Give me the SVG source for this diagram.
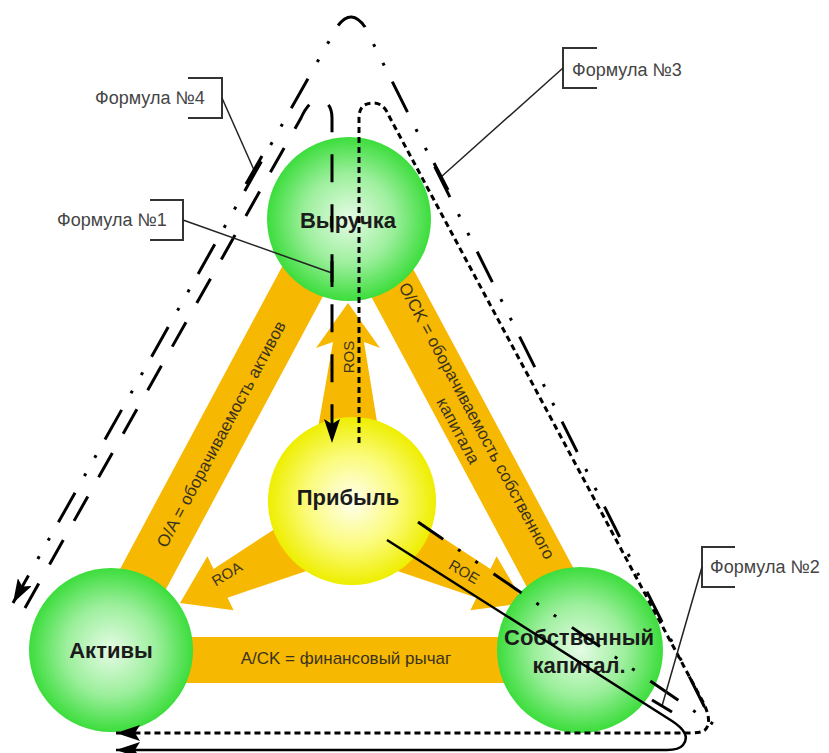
<svg xmlns="http://www.w3.org/2000/svg" width="829" height="753" viewBox="0 0 829 753">
  <defs>
    <radialGradient id="gGreen" cx="50%" cy="50%" r="50%">
      <stop offset="0" stop-color="#e6fbe6"/>
      <stop offset="0.55" stop-color="#9cef9c"/>
      <stop offset="1" stop-color="#3cdd3c"/>
    </radialGradient>
    <radialGradient id="gYellow" cx="50%" cy="50%" r="50%">
      <stop offset="0" stop-color="#fffff0"/>
      <stop offset="0.55" stop-color="#fbfb7a"/>
      <stop offset="1" stop-color="#eeee00"/>
    </radialGradient>
    <marker id="ah" viewBox="0 0 24 16" refX="24" refY="8" markerWidth="24" markerHeight="16" markerUnits="userSpaceOnUse" orient="auto">
      <path d="M0,0 L24,8 L0,16 L5,8 z" fill="#000"/>
    </marker>
    <style>
      .band{fill:none;stroke:#f6b800;stroke-width:50}
      .flow{fill:#f6b800}
      .btxt{font-family:"Liberation Sans",Arial,sans-serif;font-size:17px;fill:#3a3320;text-anchor:middle}
      .rtxt{font-family:"Liberation Sans",Arial,sans-serif;font-size:15px;fill:#3a3320;text-anchor:middle}
      .ntxt{font-family:"Liberation Sans",Arial,sans-serif;font-size:22px;font-weight:bold;fill:#1b1b1b;text-anchor:middle}
      .ftxt{font-family:"Liberation Sans",Arial,sans-serif;font-size:18px;fill:#454545}
      .ln{fill:none;stroke:#000;stroke-width:3}
      .f1{stroke-dasharray:28 22}
      .f3{stroke-dasharray:6 4}
      .f4{stroke-dasharray:34 18 3 18 3 19;stroke-dashoffset:3.5}
      .f2{stroke-width:2.5}
      .lead{fill:none;stroke:#222;stroke-width:1.5}
      .brk{fill:none;stroke:#333;stroke-width:2}
      .tick{stroke:#000;stroke-width:3}
    </style>
  </defs>

  <rect width="829" height="753" fill="#fff"/>

  <!-- thick ratio bands between the balance nodes -->
  <g id="bands">
    <line class="band" x1="111" y1="660" x2="580" y2="660" style="stroke-width:46"/>
    <line class="band" x1="105" y1="650" x2="336" y2="219"/>
    <line class="band" x1="358" y1="219" x2="589" y2="650"/>
    <!-- return arrows out of profit -->
    <polygon id="flow-ros" class="flow" points="348,303 380,348 364,342 378,428 318,428 333,342 316,348"/>
    <polygon id="flow-roa" class="flow" points="180,603 233.6,610.3 227.5,597.7 333.1,562 306.9,508 213.5,568.9 207.4,556.3"/>
    <polygon id="flow-roe" class="flow" points="524,603 470.4,610.3 476.5,597.7 370.9,562 397.1,508 490.5,568.9 496.6,556.3"/>
    <text class="btxt" transform="translate(221,434) rotate(-61.8)" y="6">O/A = оборачиваемость активов</text>
    <text class="btxt" transform="translate(469,425) rotate(61.8)"><tspan x="0" y="-3">O/CK = оборачиваемость собственного</tspan><tspan x="0" y="18">капитала</tspan></text>
    <text class="btxt" x="346" y="664">A/CK = финансовый рычаг</text>
    <text class="rtxt" transform="translate(349,357) rotate(-90)" y="5">ROS</text>
    <text class="rtxt" transform="translate(227,574) rotate(-31)" y="5">ROA</text>
    <text class="rtxt" transform="translate(464,572) rotate(31)" y="5">ROE</text>
  </g>

  <g id="node-vyruchka">
    <circle cx="349" cy="219" r="82" fill="url(#gGreen)"/>
    <text class="ntxt" x="348" y="228">Выручка</text>
  </g>
  <g id="node-pribyl">
    <circle cx="352" cy="501" r="84" fill="url(#gYellow)"/>
    <text class="ntxt" x="348" y="505">Прибыль</text>
  </g>
  <g id="node-aktivy">
    <circle cx="111" cy="650" r="82" fill="url(#gGreen)"/>
    <text class="ntxt" x="111" y="658">Активы</text>
  </g>
  <g id="node-sk">
    <circle cx="580" cy="650" r="83" fill="url(#gGreen)"/>
    <text class="ntxt" x="579" y="645">Собственный</text>
    <text class="ntxt" x="579" y="673">капитал.</text>
  </g>

  <!-- formula routes -->
  <g id="connectors">
    <path id="route-4" class="ln f4" d="M418,522 L713,724 L365,27 Q351,7 337,27 L13,603" marker-end="url(#ah)"/>
    <path id="route-1" class="ln f1" d="M25,608 L301,118 C306,107 312,100 319,100 C327,100 332,107 332,118 L332,443" marker-end="url(#ah)"/>
    <path id="route-3" class="ln f3" d="M359,443 L359,118 Q359,103 373,103 Q384,103 389,116 L703,702 Q713,722 705,730 Q701,733 690,733 L116,733" marker-end="url(#ah)"/>
    <path id="route-2" class="ln f2" d="M387,540 L672,721 Q692,734 683,745 Q679,750 667,750 L116,750" marker-end="url(#ah)"/>
  </g>

  <!-- formula callouts -->
  <g id="callout-4">
    <path class="brk" d="M188,78 H222 V118 H188"/>
    <path class="lead" d="M222,98 L254,170"/>
    <line class="tick" x1="262" y1="156" x2="246" y2="184"/>
    <text class="ftxt" x="95" y="104">Формула №4</text>
  </g>
  <g id="callout-3">
    <path class="brk" d="M597,48 H563 V88 H597"/>
    <path class="lead" d="M563,68 L441,177"/>
    <line class="tick" x1="434" y1="163" x2="448" y2="190"/>
    <text class="ftxt" x="572" y="76">Формула №3</text>
  </g>
  <g id="callout-1">
    <path class="brk" d="M150,200 H183 V240 H150"/>
    <path class="lead" d="M183,220 L332,273"/>
    <line class="tick" x1="332" y1="261" x2="332" y2="287"/>
    <text class="ftxt" x="57" y="226">Формула №1</text>
  </g>
  <g id="callout-2">
    <path class="brk" d="M735,547 H702 V587 H735"/>
    <path class="lead" d="M702,567 L662,706"/>
    <line class="tick" x1="652" y1="700" x2="672" y2="712"/>
    <text class="ftxt" x="710" y="573">Формула №2</text>
  </g>
</svg>
